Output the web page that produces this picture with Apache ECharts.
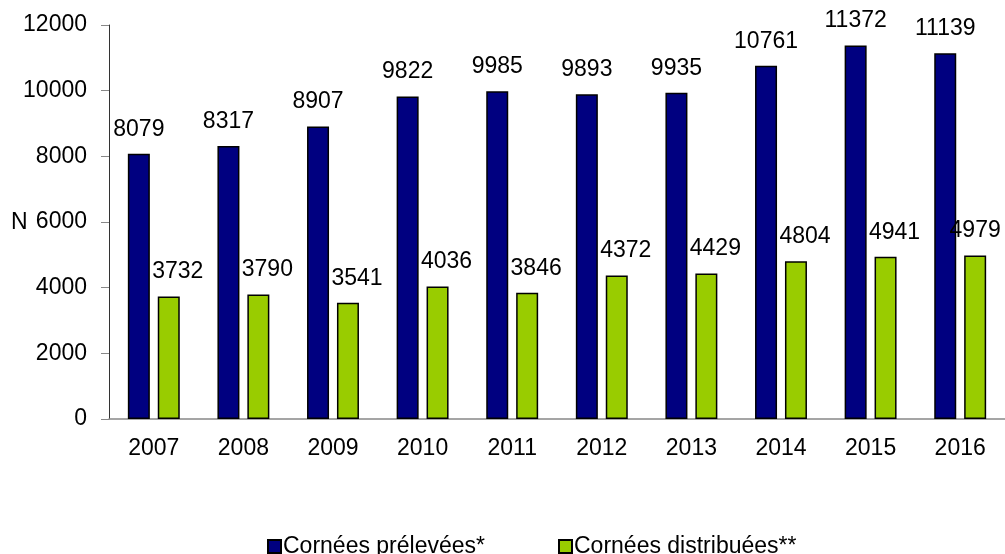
<!DOCTYPE html>
<html>
<head>
<meta charset="utf-8">
<script src="https://cdn.jsdelivr.net/npm/echarts@6/dist/echarts.min.js"></script>
<style>html,body{margin:0;padding:0;background:#fff;}#c{width:1005px;height:554px;}</style>
</head>
<body>
<div id="c"></div>
<script>
const years = ['2007','2008','2009','2010','2011','2012','2013','2014','2015','2016'];
const prelevees = [8079, 8317, 8907, 9822, 9985, 9893, 9935, 10761, 11372, 11139];
const distribuees = [3732, 3790, 3541, 4036, 3846, 4372, 4429, 4804, 4941, 4979];
const seriesNames = ['Cornées prélevées*', 'Cornées distribuées**'];
const yTicks = [0, 2000, 4000, 6000, 8000, 10000, 12000];

const font = '"Liberation Sans", Arial, sans-serif';
const W = 1005;
const chart = echarts.init(document.getElementById('c'), null, {renderer: 'canvas'});
const labelCfg = {
  show: true, position: 'top', distance: 13,
  color: '#000', fontSize: 23, fontFamily: font
};
chart.setOption({
  animation: false,
  backgroundColor: '#fff',
  grid: {left: 109, right: 0, top: 25, bottom: 135, containLabel: false},
  legend: {
    left: 262, top: 530, itemWidth: 13, itemHeight: 13, itemGap: 73,
    textStyle: {fontSize: 23, fontFamily: font, color: '#000', padding: [0,0,0,-3]},
    data: seriesNames.map(n => ({name: n, icon: 'rect'}))
  },
  graphic: [{
    type: 'text', left: 11, top: 211,
    style: {text: 'N', fontSize: 23, fontFamily: font, fill: '#000'}
  }],
  xAxis: {
    type: 'category', data: years,
    axisLine: {lineStyle: {color: '#888', width: 1.5}},
    axisTick: {show: false},
    axisLabel: {fontSize: 23, fontFamily: font, color: '#000', margin: 18}
  },
  yAxis: {
    type: 'value', min: yTicks[0], max: yTicks[yTicks.length - 1], interval: 2000,
    splitLine: {show: false},
    axisLine: {show: true, lineStyle: {color: '#333', width: 1}},
    axisTick: {show: true, length: 8, lineStyle: {color: '#888'}},
    axisLabel: {fontSize: 23, fontFamily: font, color: '#000', margin: 22, formatter: v => String(v)}
  },
  series: [
    {
      name: seriesNames[0], type: 'bar', data: prelevees,
      barWidth: 22, barGap: '36%',
      itemStyle: {color: '#000080', borderColor: '#000', borderWidth: 1.5},
      label: labelCfg
    },
    {
      name: seriesNames[1], type: 'bar', data: distribuees,
      barWidth: 22,
      itemStyle: {color: '#99CC00', borderColor: '#000', borderWidth: 1.5},
      label: labelCfg,
      labelLayout: function (p) {
        const r = p.labelRect;
        const dx = (r.x + r.width + 9 > W - 2) ? 0 : 9;
        return {dx: dx};
      }
    }
  ]
});
</script>
</body>
</html>
